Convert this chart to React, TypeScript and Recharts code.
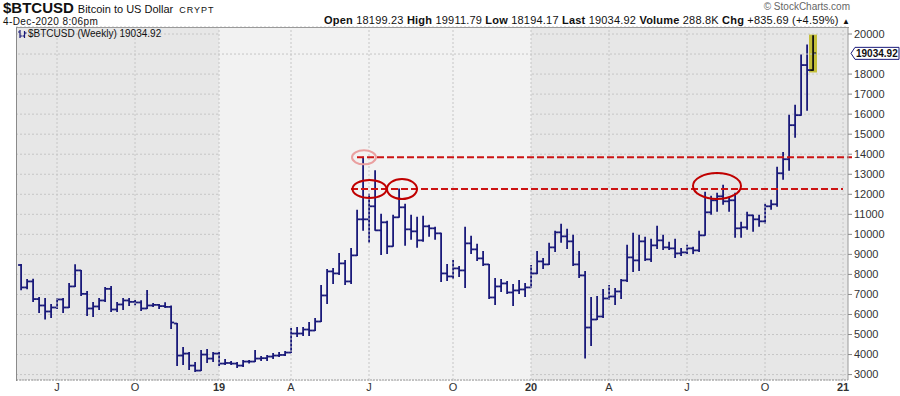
import React from "react";
import {
  ComposedChart,
  Bar,
  XAxis,
  YAxis,
  CartesianGrid,
  ReferenceLine,
  ReferenceArea,
  ReferenceDot,
} from "recharts";

// weekly bars, dated by the Monday of each week (last 5 are empty space up to Jan 2021)
const weeks = [
  "2018-05-21", "2018-05-28", "2018-06-04", "2018-06-11", "2018-06-18", "2018-06-25",
  "2018-07-02", "2018-07-09", "2018-07-16", "2018-07-23", "2018-07-30", "2018-08-06",
  "2018-08-13", "2018-08-20", "2018-08-27", "2018-09-03", "2018-09-10", "2018-09-17",
  "2018-09-24", "2018-10-01", "2018-10-08", "2018-10-15", "2018-10-22", "2018-10-29",
  "2018-11-05", "2018-11-12", "2018-11-19", "2018-11-26", "2018-12-03", "2018-12-10",
  "2018-12-17", "2018-12-24", "2018-12-31", "2019-01-07", "2019-01-14", "2019-01-21",
  "2019-01-28", "2019-02-04", "2019-02-11", "2019-02-18", "2019-02-25", "2019-03-04",
  "2019-03-11", "2019-03-18", "2019-03-25", "2019-04-01", "2019-04-08", "2019-04-15",
  "2019-04-22", "2019-04-29", "2019-05-06", "2019-05-13", "2019-05-20", "2019-05-27",
  "2019-06-03", "2019-06-10", "2019-06-17", "2019-06-24", "2019-07-01", "2019-07-08",
  "2019-07-15", "2019-07-22", "2019-07-29", "2019-08-05", "2019-08-12", "2019-08-19",
  "2019-08-26", "2019-09-02", "2019-09-09", "2019-09-16", "2019-09-23", "2019-09-30",
  "2019-10-07", "2019-10-14", "2019-10-21", "2019-10-28", "2019-11-04", "2019-11-11",
  "2019-11-18", "2019-11-25", "2019-12-02", "2019-12-09", "2019-12-16", "2019-12-23",
  "2019-12-30", "2020-01-06", "2020-01-13", "2020-01-20", "2020-01-27", "2020-02-03",
  "2020-02-10", "2020-02-17", "2020-02-24", "2020-03-02", "2020-03-09", "2020-03-16",
  "2020-03-23", "2020-03-30", "2020-04-06", "2020-04-13", "2020-04-20", "2020-04-27",
  "2020-05-04", "2020-05-11", "2020-05-18", "2020-05-25", "2020-06-01", "2020-06-08",
  "2020-06-15", "2020-06-22", "2020-06-29", "2020-07-06", "2020-07-13", "2020-07-20",
  "2020-07-27", "2020-08-03", "2020-08-10", "2020-08-17", "2020-08-24", "2020-08-31",
  "2020-09-07", "2020-09-14", "2020-09-21", "2020-09-28", "2020-10-05", "2020-10-12",
  "2020-10-19", "2020-10-26", "2020-11-02", "2020-11-09", "2020-11-16", "2020-11-23",
  "2020-11-30", "2020-12-07", "2020-12-14", "2020-12-21", "2020-12-28", "2021-01-04",
];

const opens = [
  8470, 7350, 7650, 6770, 6450, 6150, 6350, 6750, 6350, 7400, 8200, 7030,
  6300, 6400, 6700, 7280, 6250, 6500, 6700, 6630, 6600, 6300, 6450, 6480,
  6420, 6380, 5550, 3950, 4050, 3450, 3200, 4000, 3800, 4050, 3550, 3580,
  3550, 3450, 3650, 3650, 3800, 3820, 3900, 3950, 3980, 4100, 5050, 5050,
  5250, 5200, 5650, 6950, 8150, 8050, 8550, 7650, 8950, 10750, 10750, 11400,
  10200, 10600, 9400, 10850, 11350, 10250, 10150, 9700, 10400, 10300, 10050, 8050,
  7900, 8300, 8200, 9550, 9250, 8800, 8500, 6850, 7400, 7550, 7100, 7200,
  7250, 7350, 8050, 8650, 8500, 9350, 10100, 9900, 9650, 8500, 7950, 5350,
  5750, 5900, 6800, 6900, 7150, 7700, 8850, 8700, 9650, 8750, 9450, 9700,
  9350, 9300, 9050, 9100, 9300, 9200, 9950, 11100, 11700, 11900, 11650, 11700,
  10300, 10350, 10950, 10750, 10650, 11400, 11500, 13050, 13750, 15450, 15950, 18450,
  18199.23,
];

const highs = [
  8490, 7750, 7760, 6850, 6800, 6500, 6800, 6800, 7550, 8480, 8200, 7150,
  6600, 6800, 7350, 7400, 6600, 6800, 6800, 6700, 6680, 7200, 6550, 6500,
  6580, 6420, 5550, 4350, 4100, 3600, 4200, 4250, 4100, 4100, 3750, 3650,
  3600, 3700, 3700, 4200, 3900, 3950, 4050, 4100, 4150, 5300, 5350, 5350,
  5600, 5800, 7450, 8250, 8300, 9050, 8700, 9300, 11200, 13844, 12000, 13180,
  11000, 10650, 10950, 12262, 11500, 10950, 10850, 10900, 10450, 10350, 10050, 8500,
  8700, 8400, 10350, 9900, 9500, 9150, 8500, 7800, 7750, 7650, 7500, 7700,
  7550, 8450, 9150, 8800, 9550, 10150, 10500, 10250, 9950, 9150, 8150, 6850,
  6900, 7250, 7450, 7300, 7750, 9450, 10050, 9950, 9850, 9750, 10400, 9950,
  9600, 9750, 9300, 9450, 9350, 10150, 12100, 11900, 12050, 12450, 11800, 12050,
  10600, 11100, 10950, 10950, 11500, 11700, 13350, 14080, 15950, 16450, 18950, 19450,
  19911.79,
];

const lows = [
  7240, 7280, 6650, 6100, 5780, 5850, 6300, 6100, 6350, 7400, 6950, 5950,
  5900, 6250, 6650, 6150, 6150, 6250, 6450, 6480, 6200, 6300, 6400, 6300,
  6350, 5300, 3450, 3500, 3250, 3150, 3200, 3600, 3650, 3450, 3500, 3500,
  3350, 3400, 3580, 3650, 3700, 3700, 3800, 3900, 3950, 4100, 4900, 4950,
  4950, 5200, 5650, 6550, 7550, 8000, 7500, 7550, 8950, 10200, 9600, 10200,
  9000, 9050, 9400, 10850, 9450, 9750, 9350, 9650, 9900, 9750, 7650, 7700,
  7800, 7900, 7350, 9050, 8700, 8450, 6800, 6500, 7150, 7050, 6450, 7050,
  6900, 7350, 8050, 8300, 8500, 9150, 9600, 9300, 8450, 7850, 3830, 4450,
  5750, 5850, 6750, 6500, 6800, 7650, 8150, 8200, 8700, 8650, 9300, 9250,
  9250, 8850, 8950, 9050, 9050, 9150, 9950, 11000, 11150, 11500, 11150, 9850,
  9850, 10250, 10150, 10400, 10550, 11250, 11400, 12750, 13200, 14850, 15950, 16200,
  18194.17,
];

const closes = [
  7350, 7650, 6770, 6450, 6150, 6350, 6750, 6350, 7400, 8200, 7030, 6300,
  6400, 6700, 7280, 6250, 6500, 6700, 6630, 6600, 6300, 6450, 6480, 6420,
  6380, 5600, 3950, 4050, 3450, 3200, 4000, 3800, 4050, 3550, 3580, 3550,
  3450, 3650, 3650, 3800, 3820, 3900, 3950, 3980, 4100, 5050, 5050, 5250,
  5200, 5650, 6950, 8150, 8050, 8550, 7650, 8950, 10750, 10750, 11400, 10200,
  10600, 9400, 10850, 11350, 10250, 10150, 9700, 10400, 10300, 10050, 8050, 7900,
  8300, 8200, 9550, 9250, 8800, 8500, 6850, 7400, 7550, 7100, 7200, 7250,
  7350, 8050, 8650, 8500, 9350, 10100, 9900, 9650, 8500, 7950, 5350, 5750,
  5900, 6800, 6900, 7150, 7700, 8850, 8700, 9650, 8750, 9450, 9700, 9350,
  9300, 9050, 9100, 9300, 9200, 9950, 11100, 11700, 11900, 11650, 11700, 10300,
  10350, 10950, 10750, 10650, 11400, 11500, 13050, 13750, 15450, 15950, 18450, 18200,
  19034.92,
];

const quarterLabels: Record<string, string> = {
  "2018-07-02": "J",
  "2018-10-01": "O",
  "2019-01-07": "19",
  "2019-04-01": "A",
  "2019-07-01": "J",
  "2019-10-07": "O",
  "2020-01-06": "20",
  "2020-04-06": "A",
  "2020-07-06": "J",
  "2020-10-05": "O",
  "2021-01-04": "21",
};

// 19000 label is covered by the last-price tag in the original
const priceTicks = [
  3000, 4000, 5000, 6000, 7000, 8000, 9000, 10000, 11000, 12000, 13000, 14000,
  15000, 16000, 17000, 18000, 20000,
];

const upperResistance = 13844;
const lowerResistance = 12262;
const lastPrice = 19034.92;

const rows = weeks.map((date, i) =>
  i < opens.length
    ? {
        date,
        range: [lows[i], highs[i]],
        open: opens[i],
        close: closes[i],
        last: i === opens.length - 1,
      }
    : { date }
);

const lastWeek = weeks[opens.length - 1];
const font = 'Arial, "Liberation Sans", sans-serif';

function OhlcBar(props: any) {
  const { x, y, width, height, payload } = props;
  if (!payload || !payload.range) return <g />;
  const [lo, hi] = payload.range;
  const top = Math.min(y, y + height);
  const bot = Math.max(y, y + height);
  const toY = (v: number) => (hi === lo ? top : top + ((hi - v) / (hi - lo)) * (bot - top));
  const cx = x + width / 2;
  const color = payload.last ? "#111111" : "#1a1a7a";
  const yo = toY(payload.open);
  const yc = toY(payload.close);
  return (
    <g stroke={color} strokeWidth={1.8}>
      <line x1={cx} x2={cx} y1={top - 0.5} y2={bot + 0.5} />
      <line x1={cx - 3} x2={cx} y1={yo} y2={yo} />
      <line x1={cx} x2={cx + 3} y1={yc} y2={yc} />
    </g>
  );
}

function QuarterTick(props: any) {
  const { x, y, payload } = props;
  const label = quarterLabels[payload.value];
  if (!label) return <g />;
  const isYear = label.length === 2;
  return (
    <text
      x={x}
      y={y + 3}
      textAnchor="middle"
      fontSize={11}
      fontFamily={font}
      fontWeight={isYear ? "bold" : "normal"}
      fill="#333"
    >
      {label}
    </text>
  );
}

function PriceTag(props: any) {
  const { viewBox } = props;
  if (!viewBox) return null;
  const x = viewBox.x + viewBox.width + 3;
  const y = viewBox.y;
  return (
    <g>
      <polygon
        points={`${x},${y} ${x + 4},${y - 6} ${x + 48},${y - 6} ${x + 48},${y + 6} ${x + 4},${y + 6}`}
        fill="#fff"
        stroke="#1a1a7a"
        strokeWidth={1}
      />
      <text x={x + 5} y={y + 3.5} fontSize={10} fontWeight="bold" fontFamily={font} fill="#111">
        19034.92
      </text>
    </g>
  );
}

const ellipse = (rx: number, ry: number, dx: number, color: string) => (p: any) => (
  <ellipse cx={p.cx + dx} cy={p.cy} rx={rx} ry={ry} fill="none" stroke={color} strokeWidth={2} />
);

export default function App() {
  return (
    <div
      style={{
        position: "relative",
        width: 900,
        height: 396,
        background: "#fff",
        fontFamily: font,
        color: "#111",
      }}
    >
      <style>{`body{margin:0}`}</style>
      <div style={{ position: "absolute", left: 3, top: 0, whiteSpace: "nowrap", lineHeight: "16px" }}>
        <span style={{ fontSize: 15, fontWeight: "bold" }}>$BTCUSD</span>
        <span style={{ fontSize: 11, marginLeft: 4 }}>Bitcoin to US Dollar</span>
        <span style={{ fontSize: 9, marginLeft: 6, letterSpacing: 1 }}>CRYPT</span>
      </div>
      <div
        style={{
          position: "absolute",
          left: 3,
          top: 16,
          fontSize: 10,
          lineHeight: "11px",
          letterSpacing: 0.4,
        }}
      >
        4-Dec-2020 8:06pm
      </div>
      <div
        style={{
          position: "absolute",
          right: 50,
          top: 1,
          fontSize: 10,
          lineHeight: "11px",
          color: "#666",
        }}
      >
        © StockCharts.com
      </div>
      <div
        style={{
          position: "absolute",
          right: 50,
          top: 14,
          fontSize: 11,
          lineHeight: "12px",
          letterSpacing: 0.2,
          whiteSpace: "nowrap",
        }}
      >
        <b>Open</b> 18199.23 <b>High</b> 19911.79 <b>Low</b> 18194.17 <b>Last</b> 19034.92{" "}
        <b>Volume</b> 288.8K <b>Chg</b> +835.69 (+4.59%) <span style={{ fontSize: 8 }}>▲</span>
      </div>

      <div style={{ position: "absolute", left: 0, top: 0 }}>
        <ComposedChart
          width={900}
          height={396}
          data={rows}
          margin={{ top: 27, right: 0, left: 16, bottom: 0 }}
        >
          <CartesianGrid
            vertical={false}
            stroke="#c6c6c6"
            strokeDasharray="2 2"
            fill="#e7e7e7"
            fillOpacity={1}
          />
          <ReferenceArea
            x1={weeks[33]}
            x2={weeks[85]}
            fill="#f2f2f2"
            fillOpacity={1}
            shape={(p: any) => (
              <rect x={p.x + 3} y={p.y} width={p.width - 6} height={p.height} fill="#f2f2f2" />
            )}
          />
          <ReferenceLine y={19000} stroke="#c6c6c6" strokeDasharray="2 2" />
          {Object.keys(quarterLabels).map((d) => (
            <ReferenceLine key={d} x={d} stroke="#c6c6c6" strokeDasharray="2 2" />
          ))}
          <ReferenceArea
            x1={lastWeek}
            x2={lastWeek}
            y1={18080}
            y2={19970}
            shape={(p: any) => (
              <rect x={p.x - 1} y={p.y} width={p.width + 2} height={p.height} fill="#c4bf3a" />
            )}
          />
          <XAxis
            dataKey="date"
            interval={0}
            tick={<QuarterTick />}
            tickLine={false}
            axisLine={{ stroke: "#9a9a9a", strokeDasharray: "2 1" }}
            padding={{ left: 2, right: 2 }}
            height={16}
          />
          <YAxis
            orientation="right"
            domain={[2730, 20350]}
            allowDataOverflow
            ticks={priceTicks}
            interval={0}
            width={52}
            tickSize={4}
            tickMargin={2}
            tick={{ fontSize: 11, fill: "#333", fontFamily: font }}
            tickLine={{ stroke: "#888" }}
            axisLine={{ stroke: "#9a9a9a" }}
          />
          <Bar dataKey="range" shape={<OhlcBar />} isAnimationActive={false} />
          <ReferenceLine
            segment={[
              { x: weeks[56], y: upperResistance },
              { x: weeks[137], y: upperResistance },
            ]}
            ifOverflow="visible"
            shape={(p: any) => (
              <line
                x1={p.x1}
                y1={p.y1}
                x2={p.x2 + 9}
                y2={p.y2}
                stroke="#cc1414"
                strokeWidth={2}
                strokeDasharray="7 3"
              />
            )}
          />
          <ReferenceLine
            segment={[
              { x: weeks[55], y: lowerResistance },
              { x: weeks[137], y: lowerResistance },
            ]}
            ifOverflow="visible"
            stroke="#cc1414"
            strokeWidth={2}
            strokeDasharray="7 3"
          />
          <ReferenceDot
            x={weeks[57]}
            y={upperResistance}
            ifOverflow="visible"
            shape={ellipse(12, 7, 1, "#eaa0a0")}
          />
          <ReferenceDot
            x={weeks[58]}
            y={lowerResistance}
            ifOverflow="visible"
            shape={ellipse(17, 9, 0.5, "#c00000")}
          />
          <ReferenceDot
            x={weeks[63]}
            y={lowerResistance}
            ifOverflow="visible"
            shape={ellipse(15, 10, 3, "#c00000")}
          />
          <ReferenceDot
            x={weeks[116]}
            y={12412}
            ifOverflow="visible"
            shape={ellipse(24, 13, 0, "#c00000")}
          />
          <ReferenceLine y={lastPrice} stroke="none" ifOverflow="visible" label={<PriceTag />} />
        </ComposedChart>
      </div>

      <div
        style={{
          position: "absolute",
          left: 16,
          top: 27,
          width: 832,
          height: 353,
          borderLeft: "1px solid #8a8a8a",
          borderTop: "1px solid #9a9a9a",
          pointerEvents: "none",
        }}
      />
      <div
        style={{
          position: "absolute",
          left: 18,
          top: 28,
          fontSize: 10,
          lineHeight: "11px",
          whiteSpace: "nowrap",
          display: "flex",
          alignItems: "center",
        }}
      >
        <svg width={9} height={10} style={{ marginRight: 1 }}>
          <g stroke="#1a1a7a" strokeWidth={1.2}>
            <line x1={2} x2={2} y1={1} y2={9} />
            <line x1={0} x2={2} y1={3} y2={3} />
            <line x1={2} x2={4} y1={7} y2={7} />
            <line x1={6.5} x2={6.5} y1={2} y2={9} />
            <line x1={4.5} x2={6.5} y1={7} y2={7} />
            <line x1={6.5} x2={8.5} y1={4} y2={4} />
          </g>
        </svg>
        $BTCUSD (Weekly) 19034.92
      </div>
    </div>
  );
}
